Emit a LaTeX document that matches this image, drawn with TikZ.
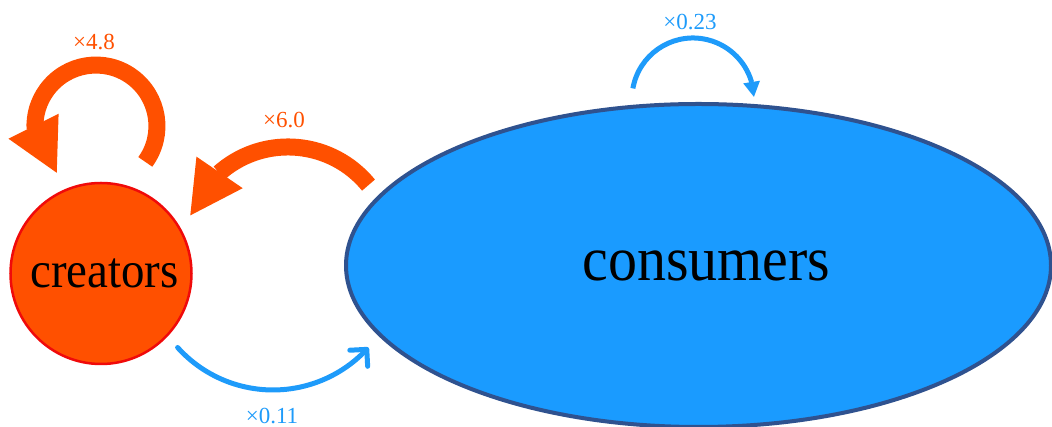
\documentclass[tikz,border=0pt]{standalone}
\usepackage{fontspec}
\setmainfont{Liberation Serif}
\usetikzlibrary{shapes.geometric,arrows.meta,bending}
\definecolor{orng}{RGB}{255,80,0}
\definecolor{crered}{RGB}{240,10,10}
\definecolor{consfill}{RGB}{26,155,255}
\definecolor{consborder}{RGB}{47,82,143}
\definecolor{arrblue}{RGB}{30,155,250}
\begin{document}
\begin{tikzpicture}[x=1pt,y=1pt,
  creatorsnode/.style={circle, minimum size=181pt, inner sep=0pt, draw=crered, line width=2.5pt, fill=orng,
    font=\fontsize{51}{51}\selectfont},
  consnode/.style={ellipse, minimum width=705pt, minimum height=323pt, inner sep=0pt, draw=consborder, line width=4pt, fill=consfill,
    font=\fontsize{63}{63}\selectfont},
  lab/.style={inner sep=0pt, font=\fontsize{23}{23}\selectfont},
  orangearrow/.style={draw=orng, line width=17pt, -{Triangle[flex, line width'=0pt, length=52pt, width=56pt]}},
  bluetriarrow/.style={draw=arrblue, line width=5pt, -{Triangle[flex, line width'=0pt, length=15pt, width=17pt]}},
  bluebarbarrow/.style={draw=arrblue, line width=5pt, line cap=round, -{Straight Barb[flex, round, length=12pt, width=24pt]}}
]
\useasboundingbox (0,0) rectangle (1052,427);
\node[creatorsnode] (cre) at (101,153.5) {\hspace*{7pt}\scalebox{0.92}[1]{creators}};
\node[consnode] (con) at (698.5,161.5) {\hspace*{16pt}\scalebox{0.92}[1]{consumers}};
% self loop on creators
\coordinate (loopA) at (145.3,265.1);
\draw[orangearrow] (loopA) arc[start angle=-36, end angle=230, radius=61];
% consumers -> creators
\coordinate (conout) at (368.5,241.9);
\draw[orangearrow] (conout) arc[start angle=39.3, end angle=160, radius=104];
% self loop on consumers
\coordinate (loopB) at (632.9,338.6);
\draw[bluetriarrow] (loopB) arc[start angle=170, end angle=2, radius=61];
% creators -> consumers
\coordinate (creout) at (177.6,79.5);
\draw[bluebarbarrow] (creout) arc[start angle=222, end angle=318, radius=128.4];
% labels
\node[lab, text=orng] (l48) at (94,385) {×4.8};
\node[lab, text=orng] (l60) at (284,307) {×6.0};
\node[lab, text=arrblue] (l023) at (690,405) {×0.23};
\node[lab, text=arrblue] (l011) at (272,11) {×0.11};
\end{tikzpicture}
\end{document}
